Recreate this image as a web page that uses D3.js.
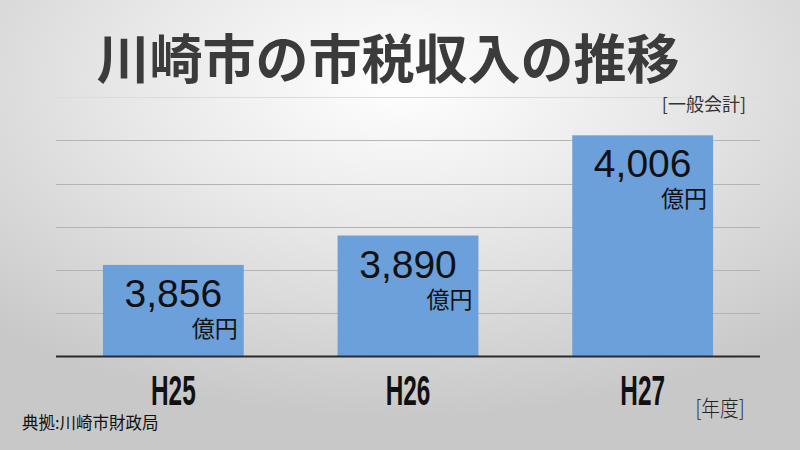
<!DOCTYPE html>
<html>
<head>
<meta charset="utf-8">
<script src="https://cdn.jsdelivr.net/npm/d3@7"></script>
<style>
  html, body { margin: 0; padding: 0; }
  body { width: 800px; height: 450px; overflow: hidden; }
</style>
</head>
<body>
<svg id="chart" width="800" height="450"></svg>
<script>
const categories = ["H25", "H26", "H27"];
const values = [3856, 3890, 4006];
const yTicks = [3750, 3800, 3850, 3900, 3950, 4000, 4050];
const titleText = "川崎市の市税収入の推移";
const unitText = "億円";
const noteTopRight = "[一般会計]";
const xUnitText = "[年度]";
const sourceText = "典拠:川崎市財政局";

const svg = d3.select("#chart");
const W = 800, H = 450;
const jp = "'Noto Sans CJK JP', 'Noto Sans', sans-serif";
const num = "'Liberation Sans', Arial, sans-serif";

// background
const defs = svg.append("defs");
const rg = defs.append("radialGradient").attr("id", "bg")
  .attr("cx", "50%").attr("cy", "18%").attr("r", "75%")
  .attr("fx", "50%").attr("fy", "18%");
rg.append("stop").attr("offset", "0%").attr("stop-color", "#ffffff");
rg.append("stop").attr("offset", "45%").attr("stop-color", "#e8e8e8");
rg.append("stop").attr("offset", "100%").attr("stop-color", "#c8c8c8");
svg.append("rect").attr("width", W).attr("height", H).attr("fill", "url(#bg)");

const x = d3.scaleBand().domain(categories).range([56, 760]).paddingInner(0.4).paddingOuter(0.2);
const y = d3.scaleLinear().domain([3750, 4050]).range([356.5, 97.3]);

// gridlines
svg.append("g").selectAll("line").data(yTicks.slice(1)).join("line")
  .attr("x1", 56).attr("x2", 760)
  .attr("y1", d => Math.round(y(d)) + 0.5).attr("y2", d => Math.round(y(d)) + 0.5)
  .attr("stroke", (d, i) => i === yTicks.length - 2 ? "#dcdcdc" : "#b4b4b4")
  .attr("stroke-width", 1);

// bars
svg.append("g").selectAll("rect").data(values).join("rect")
  .attr("x", (d, i) => x(categories[i]))
  .attr("y", d => y(d))
  .attr("width", x.bandwidth())
  .attr("height", d => y(3750) - y(d))
  .attr("fill", "#6ca0da");

// baseline
svg.append("line").attr("x1", 56).attr("x2", 760)
  .attr("y1", y(3750)).attr("y2", y(3750))
  .attr("stroke", "#2a2a2a").attr("stroke-width", 2);

// value labels
const fmt = d3.format(",");
svg.append("g").selectAll("text").data(values).join("text")
  .attr("x", (d, i) => x(categories[i]) + x.bandwidth() / 2)
  .attr("y", d => y(d) + 42)
  .attr("text-anchor", "middle")
  .attr("font-family", num).attr("font-size", 39)
  .attr("fill", "#111")
  .text(d => fmt(d));

svg.append("g").selectAll("text").data(values).join("text")
  .attr("x", (d, i) => x(categories[i]) + x.bandwidth() - 6)
  .attr("y", d => y(d) + 72)
  .attr("text-anchor", "end")
  .attr("font-family", jp).attr("font-size", 23)
  .attr("fill", "#111")
  .text(unitText);

// x axis labels (condensed bold)
svg.append("g").selectAll("text").data(categories).join("text")
  .attr("transform", d => `translate(${x(d) + x.bandwidth() / 2},405) scale(0.58,1)`)
  .attr("text-anchor", "middle")
  .attr("font-family", num).attr("font-weight", "bold").attr("font-size", 42)
  .attr("fill", "#111")
  .text(d => d);

// title
svg.append("text")
  .attr("x", 388).attr("y", 79)
  .attr("text-anchor", "middle")
  .attr("font-family", jp).attr("font-weight", "bold").attr("font-size", 53)
  .attr("fill", "#3b3b3b")
  .text(titleText);

// top-right note
svg.append("text")
  .attr("x", 746).attr("y", 111)
  .attr("text-anchor", "end")
  .attr("font-family", jp).attr("font-size", 18)
  .attr("fill", "#333")
  .text(noteTopRight);

// x unit
svg.append("text")
  .attr("transform", "translate(720,416) scale(0.85,1)")
  .attr("text-anchor", "middle")
  .attr("font-family", jp).attr("font-size", 22).attr("font-weight", 300)
  .attr("fill", "#222")
  .text(xUnitText);

// source
svg.append("text")
  .attr("x", 22).attr("y", 429)
  .attr("font-family", jp).attr("font-size", 16.5)
  .attr("fill", "#111")
  .text(sourceText);
</script>
</body>
</html>
